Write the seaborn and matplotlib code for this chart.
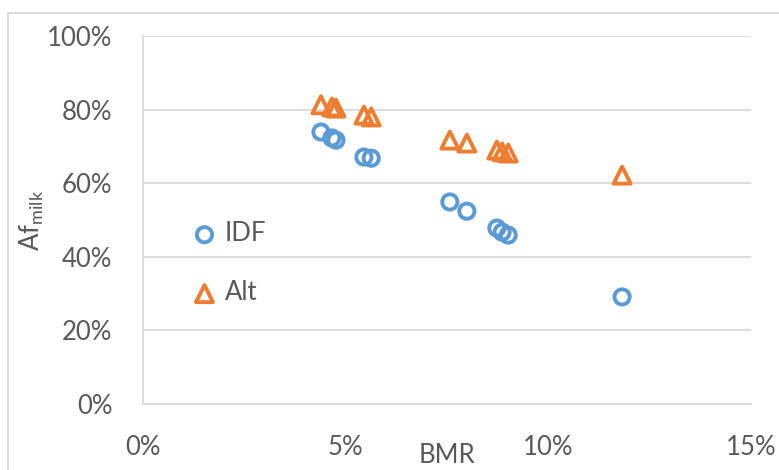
import numpy as np
import pandas as pd
import matplotlib.pyplot as plt
import matplotlib.ticker as mtick
from matplotlib.patches import Rectangle
import seaborn as sns

# values
bmr = [0.0439, 0.0466, 0.0476, 0.0545, 0.0563, 0.0757, 0.0799, 0.0873, 0.0886, 0.0901, 0.1182]
af_idf = [0.739, 0.723, 0.717, 0.671, 0.668, 0.549, 0.524, 0.478, 0.467, 0.459, 0.291]
af_alt = [0.813, 0.807, 0.804, 0.785, 0.780, 0.717, 0.709, 0.690, 0.685, 0.682, 0.622]
series_names = ['IDF', 'Alt']

blue = '#5B9BD5'
orange = '#ED7D31'
grey_txt = '#595959'
grey_line = '#D9D9D9'

df = pd.DataFrame({
    'BMR': bmr * 2,
    'Af': af_idf + af_alt,
    'series': [series_names[0]] * len(bmr) + [series_names[1]] * len(bmr),
})

sns.set_style('white')
plt.rcParams['font.family'] = ['Lato', 'DejaVu Sans']
plt.rcParams['mathtext.fontset'] = 'custom'
plt.rcParams['mathtext.rm'] = 'Lato'
plt.rcParams['mathtext.it'] = 'Lato'

fig = plt.figure(figsize=(7.79, 4.70), dpi=100)
ax = fig.add_axes([143 / 779, 1 - 404 / 470, 608 / 779, 368 / 470])

# outer chart border (cropped on right/bottom like the reference)
fig.patches.append(Rectangle((8 / 779, -0.1), 1.2, 1.1 - 13 / 470, transform=fig.transFigure,
                             fill=False, edgecolor=grey_line, linewidth=1.3))

for name, marker, size, col in [('IDF', 'o', 120, blue), ('Alt', '^', 150, orange)]:
    sub = df[df['series'] == name]
    sns.scatterplot(data=sub, x='BMR', y='Af', marker=marker, s=size, linewidth=2.8,
                    ax=ax, label=name, zorder=3)
    ax.collections[-1].set_facecolor('none')
    ax.collections[-1].set_edgecolor(col)

ax.set_xlim(0, 0.15)
ax.set_ylim(0, 1.0)
ax.set_xticks([0, 0.05, 0.10, 0.15])
ax.set_yticks([0, 0.2, 0.4, 0.6, 0.8, 1.0])
ax.xaxis.set_major_formatter(mtick.PercentFormatter(1.0, decimals=0))
ax.yaxis.set_major_formatter(mtick.PercentFormatter(1.0, decimals=0))
ax.tick_params(axis='both', length=0, labelsize=18.5, labelcolor=grey_txt)
ax.tick_params(axis='x', pad=22)
ax.tick_params(axis='y', pad=22)

ax.grid(axis='y', color=grey_line, linewidth=1.3)
ax.grid(axis='x', visible=False)
sns.despine(ax=ax, top=True, right=True)
for sp in ['left', 'bottom']:
    ax.spines[sp].set_color(grey_line)
    ax.spines[sp].set_linewidth(1.3)

ax.set_xlabel('BMR', fontsize=18.5, color=grey_txt)
ax.xaxis.set_label_coords(0.5, -0.105)
ax.set_ylabel('Af$_{\\mathrm{milk}}$', fontsize=18.5, color=grey_txt)
ax.yaxis.set_label_coords(-0.16, 0.5)

leg = ax.legend(loc='center left', bbox_to_anchor=(0.08, 0.382), frameon=False,
                handlelength=1.0, handletextpad=0.3, labelspacing=1.32,
                borderpad=0, borderaxespad=0, fontsize=18.5)
for t in leg.get_texts():
    t.set_color(grey_txt)

fig.savefig('out.png', dpi=100)
